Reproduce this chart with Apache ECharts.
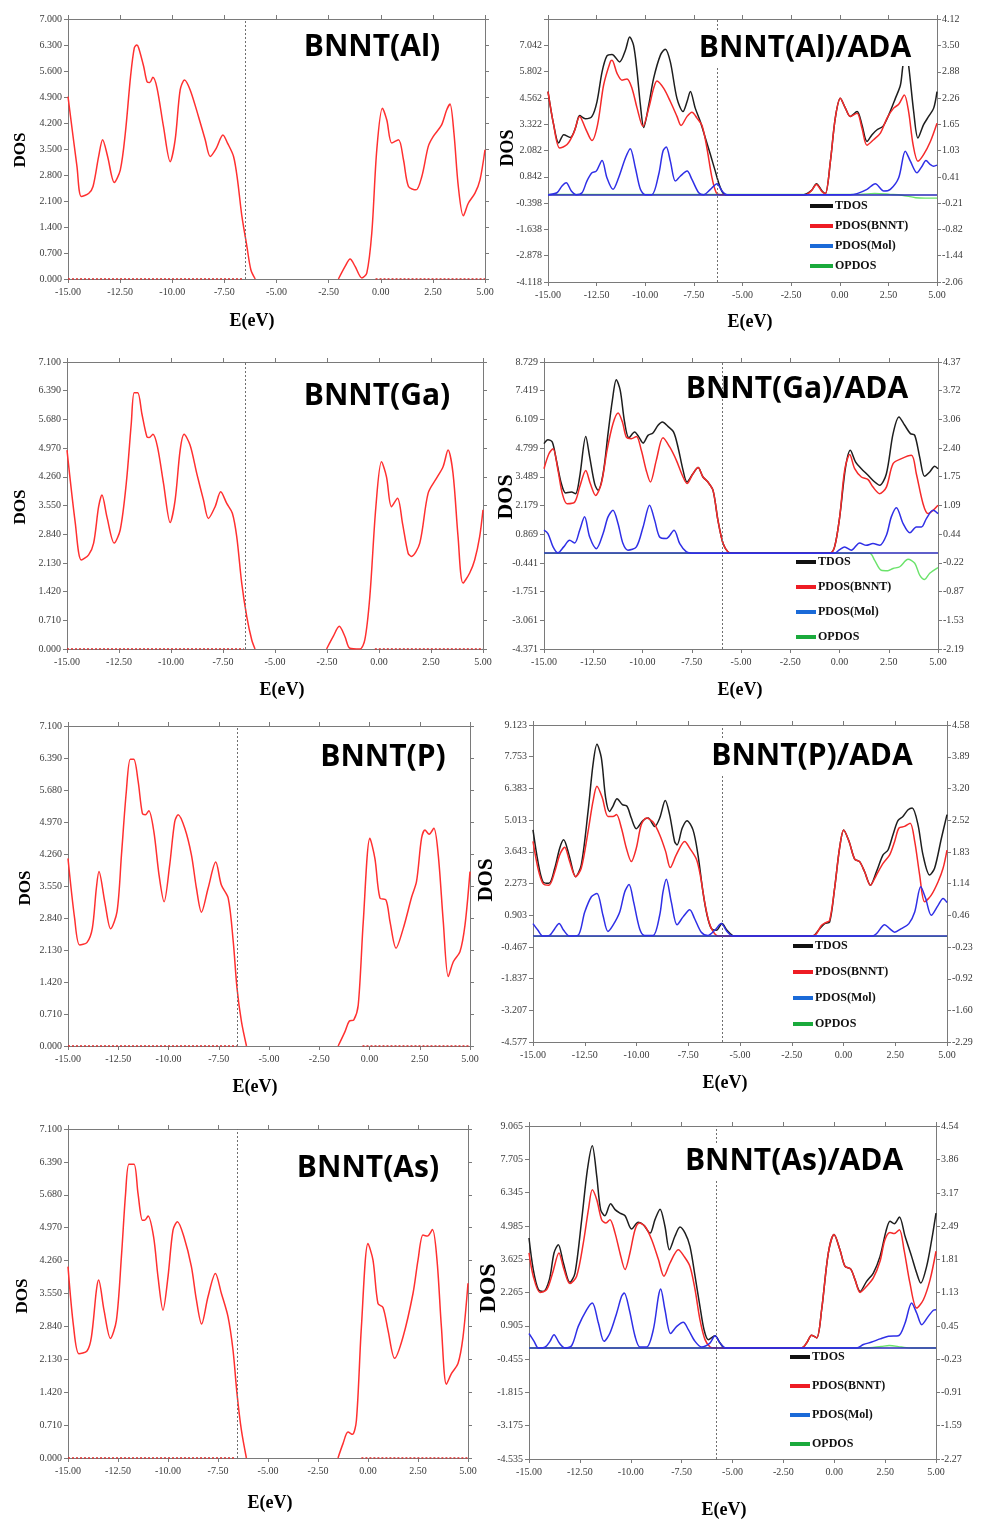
<!DOCTYPE html>
<html><head><meta charset="utf-8">
<script src="https://cdn.jsdelivr.net/npm/echarts@6/dist/echarts.min.js"></script>
<style>html,body{margin:0;padding:0;background:#fff}#c{width:983px;height:1519px}</style>
</head><body><div id="c"></div>
<script>
// ---------------- DATA ----------------
const xTickStep = 2.5;
const xMin = -15, xMax = 5;

// Pristine-doped BNNT total DOS (left column)
const alDos = [[-15,4.91],[-14.57,3.03],[-14.36,2.22],[-14.0,2.31],[-13.8,2.49],[-13.53,3.3],[-13.34,3.75],[-13.1,3.3],[-12.78,2.6],[-12.49,2.94],[-12.25,3.93],[-12.0,5.45],[-11.82,6.22],[-11.7,6.3],[-11.61,6.22],[-11.37,5.72],[-11.21,5.31],[-11.08,5.29],[-10.93,5.43],[-10.73,5.14],[-10.42,4.1],[-10.1,3.16],[-9.86,3.75],[-9.62,5.09],[-9.41,5.36],[-9.14,5.09],[-8.74,4.37],[-8.42,3.75],[-8.18,3.3],[-7.89,3.52],[-7.57,3.88],[-7.35,3.66],[-7.06,3.3],[-6.87,2.67],[-6.66,1.69],[-6.42,0.88],[-6.23,0.25],[-6.02,0],[-4,'-'],[-2.03,0],[-1.71,0.34],[-1.47,0.54],[-1.23,0.34],[-0.91,0.03],[-0.67,0.16],[-0.43,1.24],[-0.19,3.48],[0.08,4.6],[0.29,4.28],[0.53,3.66],[0.85,3.75],[1.09,3.21],[1.33,2.49],[1.69,2.4],[1.97,2.76],[2.28,3.57],[2.52,3.84],[2.92,4.15],[3.16,4.55],[3.32,4.71],[3.51,3.93],[3.72,2.49],[3.96,1.7],[4.2,2.04],[4.52,2.31],[4.76,2.67],[5.0,3.48]];
const gaDos = [[-15,4.92],[-14.6,3.11],[-14.31,2.2],[-13.96,2.33],[-13.72,2.62],[-13.48,3.52],[-13.32,3.81],[-13.08,3.27],[-12.73,2.62],[-12.44,2.95],[-12.15,4.1],[-11.91,5.58],[-11.77,6.34],[-11.6,6.34],[-11.4,5.82],[-11.16,5.25],[-11.05,5.23],[-10.87,5.31],[-10.65,5.0],[-10.36,4.1],[-10.04,3.13],[-9.8,3.69],[-9.56,4.92],[-9.37,5.31],[-9.08,5.04],[-8.76,4.34],[-8.44,3.69],[-8.2,3.23],[-7.88,3.52],[-7.61,3.89],[-7.32,3.6],[-7.05,3.36],[-6.84,2.78],[-6.6,1.63],[-6.36,0.81],[-6.12,0.23],[-5.96,0],[-4,'-'],[-2.52,0],[-2.2,0.31],[-1.91,0.56],[-1.64,0.31],[-1.4,0.02],[-0.92,0],[-0.68,0.23],[-0.44,1.3],[-0.15,3.52],[0.12,4.63],[0.36,4.26],[0.6,3.52],[0.89,3.73],[1.13,3.11],[1.4,2.37],[1.56,2.29],[1.96,2.62],[2.36,3.85],[2.76,4.22],[3.08,4.51],[3.32,4.92],[3.56,4.34],[3.8,2.78],[4.04,1.63],[4.36,1.88],[4.6,2.2],[4.84,2.78],[5.0,3.44]];
const pDos = [[-15,4.16],[-14.67,2.83],[-14.42,2.24],[-14.05,2.3],[-13.79,2.61],[-13.59,3.5],[-13.46,3.87],[-13.17,3.2],[-12.88,2.6],[-12.56,2.98],[-12.34,4.24],[-12.1,5.64],[-11.9,6.36],[-11.73,6.36],[-11.51,5.87],[-11.3,5.16],[-11.15,5.13],[-10.98,5.22],[-10.73,4.76],[-10.47,3.79],[-10.22,3.2],[-9.94,4.02],[-9.69,4.98],[-9.52,5.13],[-9.19,4.83],[-8.86,4.24],[-8.61,3.5],[-8.36,2.97],[-8.03,3.5],[-7.65,4.08],[-7.37,3.57],[-7.03,3.28],[-6.78,2.32],[-6.59,1.28],[-6.37,0.54],[-6.12,0],[-4,'-'],[-1.56,0],[-1.22,0.32],[-1.01,0.55],[-0.78,0.58],[-0.56,0.91],[-0.31,2.76],[0.02,4.61],[0.27,4.16],[0.52,3.28],[0.82,3.24],[1.02,2.76],[1.32,2.17],[1.68,2.61],[2.1,3.31],[2.34,3.65],[2.59,4.61],[2.76,4.79],[2.97,4.7],[3.2,4.83],[3.42,4.24],[3.67,2.76],[3.92,1.54],[4.17,1.87],[4.5,2.09],[4.75,2.68],[5.0,3.87]];
const asDos = [[-15,4.13],[-14.72,2.83],[-14.45,2.25],[-14.05,2.31],[-13.83,2.61],[-13.58,3.62],[-13.47,3.84],[-13.2,3.19],[-12.88,2.58],[-12.58,2.97],[-12.33,4.34],[-12.12,5.71],[-11.95,6.34],[-11.7,6.34],[-11.5,5.71],[-11.28,5.13],[-11.17,5.13],[-11.0,5.22],[-10.72,4.77],[-10.5,3.91],[-10.25,3.19],[-10.0,3.91],[-9.75,4.92],[-9.53,5.1],[-9.2,4.77],[-8.83,4.13],[-8.58,3.41],[-8.32,2.89],[-8.0,3.48],[-7.63,3.98],[-7.33,3.55],[-7.0,3.05],[-6.75,2.33],[-6.55,1.39],[-6.33,0.6],[-6.08,0],[-4,'-'],[-1.5,0],[-1.25,0.31],[-1.0,0.56],[-0.78,0.51],[-0.58,0.81],[-0.33,2.83],[0.0,4.63],[0.25,4.27],[0.5,3.33],[0.75,3.25],[1.0,2.76],[1.33,2.15],[1.75,2.61],[2.25,3.55],[2.5,4.27],[2.75,4.81],[2.97,4.79],[3.22,4.93],[3.45,4.27],[3.67,2.83],[3.92,1.59],[4.17,1.82],[4.5,2.04],[4.75,2.61],[5.0,3.77]];

// dotted zero-level DOS segments (left column)
const alBase = [[-15,0],[-6.6,0],[-4,'-'],[-0.25,0],[5,0]];
const gaBase = [[-15,0],[-6.5,0],[-4,'-'],[-0.2,0],[5,0]];
const pBase  = [[-15,0],[-6.6,0],[-4,'-'],[-0.35,0],[5,0]];
const asBase = [[-15,0],[-6.6,0],[-4,'-'],[-0.33,0],[5,0]];

// BNNT(X)/ADA complexes (right column)
const alAdaTdos = [[-15,4.86],[-14.71,3.3],[-14.45,2.44],[-14.19,2.83],[-13.85,2.7],[-13.59,3.14],[-13.37,3.73],[-13.08,3.58],[-12.74,3.69],[-12.48,4.39],[-12.22,5.79],[-11.97,6.54],[-11.71,6.61],[-11.32,6.26],[-11.02,6.81],[-10.8,7.43],[-10.6,7.04],[-10.42,5.79],[-10.25,4.23],[-10.08,3.17],[-9.82,4.23],[-9.57,5.48],[-9.22,6.58],[-8.97,6.86],[-8.71,6.26],[-8.37,4.54],[-8.06,3.92],[-7.85,4.39],[-7.68,4.86],[-7.43,4.08],[-7.17,3.45],[-6.91,2.67],[-6.65,1.89],[-6.4,1.11],[-6.14,0.33],[-5.88,0],[-1.85,0],[-1.45,0.2],[-1.2,0.52],[-0.91,0.17],[-0.74,0.05],[-0.48,1.58],[-0.23,3.61],[0.03,4.54],[0.29,4.08],[0.54,3.69],[0.89,3.92],[1.14,3.3],[1.4,2.51],[1.66,2.83],[1.92,3.06],[2.22,3.22],[2.52,3.76],[2.86,4.54],[3.12,5.17],[3.25,6.1],[3.4,6.7],[3.54,6.1],[3.8,3.92],[4.02,2.67],[4.31,3.3],[4.57,3.69],[4.83,4.08],[5.0,4.86]];
const alAdaBnnt = [[-15,4.86],[-14.71,3.3],[-14.4,2.2],[-14.02,2.36],[-13.68,2.9],[-13.37,3.69],[-13.08,3.14],[-12.74,2.55],[-12.45,3.3],[-12.14,5.17],[-11.8,6.26],[-11.71,6.34],[-11.45,5.72],[-11.2,5.4],[-10.94,5.45],[-10.68,5.01],[-10.42,4.08],[-10.12,3.22],[-9.82,4.08],[-9.57,5.01],[-9.4,5.36],[-9.05,5.01],[-8.71,4.39],[-8.37,3.69],[-8.16,3.26],[-7.85,3.69],[-7.6,3.89],[-7.34,3.61],[-7.08,3.26],[-6.83,2.2],[-6.57,0.8],[-6.35,0.09],[-6.15,0],[-1.75,0],[-1.45,0.2],[-1.2,0.48],[-0.91,0.14],[-0.74,0.05],[-0.48,1.58],[-0.23,3.61],[0.03,4.54],[0.29,4.08],[0.54,3.69],[0.89,3.84],[1.14,3.14],[1.4,2.33],[1.74,2.59],[2.09,2.9],[2.43,3.61],[2.77,4.08],[3.03,4.26],[3.32,4.7],[3.54,3.92],[3.77,2.36],[4.02,1.58],[4.31,1.89],[4.66,2.51],[5.0,3.37]];
const alAdaMol = [[-15,0],[-14.54,0.09],[-14.28,0.41],[-14.06,0.56],[-13.8,0.17],[-13.54,0],[-13.25,0.09],[-13.0,0.64],[-12.74,1.03],[-12.52,1.11],[-12.22,1.61],[-11.97,0.8],[-11.66,0.25],[-11.37,0.8],[-11.02,1.73],[-10.77,2.17],[-10.51,1.27],[-10.25,0.25],[-10.0,0],[-9.66,0],[-9.31,0.95],[-9.09,2.05],[-8.92,2.25],[-8.71,1.58],[-8.45,0.64],[-8.2,0.87],[-7.85,1.11],[-7.6,0.72],[-7.25,0.09],[-7.0,0],[-6.65,0.25],[-6.31,0.52],[-6.05,0.17],[-5.8,0],[0.54,0],[0.89,0.05],[1.4,0.25],[1.83,0.52],[2.26,0.17],[2.6,0.25],[3.03,0.8],[3.37,2.05],[3.63,1.58],[3.97,1.03],[4.23,1.34],[4.43,1.61],[4.66,1.42],[4.83,1.34],[5.0,1.39]];
const alAdaOp = [[-15,0],[1.0,0],[1.8,0.02],[2.6,0],[3.2,-0.02],[3.9,-0.08],[4.4,-0.09],[5.0,-0.09]];

const gaAdaTdos = [[-15,5.0],[-14.8,5.18],[-14.58,5.08],[-14.37,4.24],[-14.12,3.18],[-13.9,2.75],[-13.61,2.8],[-13.4,2.72],[-13.19,3.48],[-12.88,5.33],[-12.68,4.39],[-12.43,3.18],[-12.26,2.87],[-12.0,3.63],[-11.75,5.46],[-11.53,6.98],[-11.33,7.92],[-11.13,7.43],[-10.91,5.99],[-10.69,5.27],[-10.4,5.53],[-10.18,5.3],[-9.97,5.03],[-9.72,5.38],[-9.47,5.49],[-9.21,5.84],[-8.99,5.99],[-8.71,5.79],[-8.42,5.53],[-8.2,4.85],[-7.94,3.78],[-7.74,3.25],[-7.44,3.63],[-7.18,3.91],[-6.93,3.48],[-6.68,3.25],[-6.42,2.87],[-6.17,1.5],[-5.91,0.44],[-5.66,0.06],[-5.45,0],[-0.5,0],[-0.25,0.29],[0.01,1.66],[0.31,3.94],[0.55,4.7],[0.82,4.16],[1.11,3.86],[1.45,3.56],[1.79,3.25],[2.04,3.1],[2.38,3.63],[2.72,5.46],[3.02,6.22],[3.31,5.84],[3.6,5.46],[3.82,5.38],[4.07,4.39],[4.32,3.51],[4.58,3.71],[4.83,3.97],[5.0,3.86]];
const gaAdaBnnt = [[-15,3.86],[-14.75,4.54],[-14.54,4.77],[-14.29,3.78],[-14.07,2.72],[-13.83,2.26],[-13.44,2.34],[-13.19,3.02],[-12.88,3.78],[-12.65,3.18],[-12.38,2.64],[-12.09,3.18],[-11.8,4.7],[-11.5,5.91],[-11.24,6.4],[-11.02,5.99],[-10.82,5.3],[-10.57,5.23],[-10.31,5.33],[-10.06,4.7],[-9.81,3.78],[-9.6,3.25],[-9.3,4.24],[-8.96,5.27],[-8.62,4.85],[-8.28,4.24],[-7.98,3.56],[-7.74,3.18],[-7.44,3.63],[-7.18,3.91],[-6.93,3.48],[-6.68,3.25],[-6.42,2.87],[-6.17,1.5],[-5.91,0.44],[-5.66,0.06],[-5.45,0],[-0.5,0],[-0.25,0.29],[0.01,1.66],[0.26,3.78],[0.52,4.51],[0.77,3.86],[1.11,3.48],[1.45,3.36],[1.7,3.02],[2.04,2.72],[2.38,3.02],[2.72,4.09],[3.15,4.32],[3.65,4.47],[3.9,3.63],[4.24,2.26],[4.49,1.81],[4.75,1.96],[5.0,2.19]];
const gaAdaMol = [[-15,1.05],[-14.8,0.9],[-14.54,0.29],[-14.29,0.02],[-14.0,0.29],[-13.7,0.59],[-13.44,0.47],[-13.19,1.05],[-12.94,1.66],[-12.68,0.74],[-12.34,0.21],[-12.0,0.9],[-11.75,1.66],[-11.5,1.96],[-11.24,1.35],[-10.99,0.44],[-10.74,0.14],[-10.31,0.29],[-9.97,1.2],[-9.64,2.19],[-9.38,1.5],[-9.13,0.74],[-8.79,0.67],[-8.4,1.05],[-8.11,0.44],[-7.77,0.06],[-7.5,0],[-0.25,0],[0.01,0.17],[0.26,0.29],[0.6,0.14],[1.02,0.47],[1.36,0.36],[1.7,0.44],[2.04,0.36],[2.38,0.82],[2.63,1.66],[2.89,2.08],[3.23,1.35],[3.57,0.93],[3.9,1.2],[4.16,1.2],[4.41,1.58],[4.75,1.96],[5.0,1.81]];
const gaAdaOp = [[-15,0],[1.53,0],[1.78,-0.16],[2.12,-0.39],[2.46,-0.4],[2.72,-0.35],[3.06,-0.31],[3.48,-0.14],[3.82,-0.23],[4.07,-0.5],[4.32,-0.6],[4.58,-0.46],[5.0,-0.33]];

const pAdaTdos = [[-15,4.59],[-14.76,3.22],[-14.52,2.35],[-14.23,2.28],[-13.95,2.93],[-13.71,3.8],[-13.52,4.16],[-13.26,3.51],[-12.94,2.57],[-12.67,3.07],[-12.34,5.39],[-12.1,7.42],[-11.91,8.29],[-11.7,7.71],[-11.49,5.97],[-11.3,5.39],[-11.14,5.61],[-10.94,5.94],[-10.68,5.68],[-10.46,5.61],[-10.25,5.1],[-10.01,4.64],[-9.69,4.99],[-9.44,5.1],[-9.12,4.74],[-8.88,5.1],[-8.61,5.86],[-8.4,5.25],[-8.16,4.09],[-8.04,3.94],[-7.79,4.67],[-7.56,4.99],[-7.27,4.59],[-7.03,3.51],[-6.79,1.91],[-6.59,0.9],[-6.38,0.32],[-6.14,0.25],[-5.87,0.54],[-5.63,0.25],[-5.37,0.03],[-5.2,0],[-1.5,0],[-1.15,0.32],[-0.91,0.54],[-0.67,0.61],[-0.43,2.06],[-0.19,3.8],[0.01,4.59],[0.27,4.09],[0.54,3.33],[0.78,3.22],[1.02,2.78],[1.3,2.2],[1.59,2.78],[1.91,3.51],[2.15,3.72],[2.39,4.38],[2.63,4.99],[2.87,5.17],[3.12,5.46],[3.32,5.54],[3.6,4.81],[3.84,3.51],[4.16,2.64],[4.4,2.93],[4.73,4.23],[5.0,5.25]];
const pAdaBnnt = [[-15,4.09],[-14.76,2.93],[-14.52,2.28],[-14.23,2.2],[-13.95,2.78],[-13.71,3.51],[-13.47,3.84],[-13.23,3.22],[-12.94,2.57],[-12.67,2.93],[-12.34,4.52],[-12.1,5.83],[-11.91,6.48],[-11.65,5.97],[-11.38,5.17],[-11.14,5.17],[-10.97,5.25],[-10.73,4.67],[-10.49,3.8],[-10.25,3.22],[-10.01,3.8],[-9.77,4.81],[-9.53,5.1],[-9.2,4.93],[-8.88,4.38],[-8.59,3.65],[-8.37,2.96],[-8.08,3.51],[-7.67,4.09],[-7.43,3.8],[-7.11,3.33],[-6.92,2.64],[-6.71,1.48],[-6.5,0.61],[-6.3,0.2],[-6.05,0],[-1.55,0],[-1.31,0.1],[-1.07,0.46],[-0.86,0.58],[-0.67,0.68],[-0.43,2.06],[-0.19,3.8],[0.01,4.59],[0.27,4.09],[0.54,3.33],[0.78,3.22],[1.02,2.78],[1.3,2.2],[1.59,2.64],[1.91,3.14],[2.23,3.51],[2.47,4.09],[2.68,4.67],[2.95,4.74],[3.22,4.88],[3.44,4.09],[3.68,2.64],[3.92,1.48],[4.24,1.77],[4.57,2.35],[4.81,2.93],[5.0,3.72]];
const pAdaMol = [[-15,0.54],[-14.76,0.25],[-14.52,0],[-14.2,0.03],[-13.95,0.32],[-13.74,0.54],[-13.52,0.25],[-13.23,0],[-12.83,0.03],[-12.5,1.04],[-12.18,1.7],[-11.91,1.84],[-11.62,0.9],[-11.38,0.2],[-11.14,0.46],[-10.81,1.04],[-10.57,1.91],[-10.36,2.23],[-10.14,1.48],[-9.85,0.32],[-9.61,0.03],[-9.2,0.03],[-8.88,0.9],[-8.72,1.91],[-8.56,2.46],[-8.32,1.48],[-8.04,0.49],[-7.75,0.83],[-7.43,1.14],[-7.19,0.75],[-6.87,0.17],[-6.55,0.03],[-6.22,0.25],[-5.9,0.54],[-5.63,0.2],[-5.34,0],[1.4,0],[1.59,0.1],[1.99,0.49],[2.23,0.32],[2.47,0.17],[2.79,0.32],[3.16,0.54],[3.44,1.04],[3.73,2.13],[3.97,1.62],[4.24,0.9],[4.57,1.33],[4.81,1.62],[5.0,1.45]];
const pAdaOp = [[-15,0],[-1.2,0],[-0.9,0.01],[-0.5,0],[2.2,0],[2.5,0.01],[2.8,0],[5,0]];

const asAdaTdos = [[-15,4.49],[-14.79,3.2],[-14.54,2.38],[-14.3,2.31],[-14.0,2.79],[-13.77,3.88],[-13.56,4.22],[-13.31,3.47],[-12.99,2.68],[-12.74,3.06],[-12.41,5.24],[-12.13,7.28],[-11.89,8.26],[-11.67,7.01],[-11.48,5.65],[-11.27,5.4],[-10.99,5.89],[-10.77,5.65],[-10.53,5.51],[-10.28,5.4],[-9.96,4.86],[-9.63,5.13],[-9.38,5.03],[-9.05,4.69],[-8.81,5.24],[-8.56,5.67],[-8.32,4.97],[-8.1,4.01],[-7.83,4.56],[-7.58,4.94],[-7.33,4.69],[-7.09,4.15],[-6.84,2.93],[-6.6,1.7],[-6.4,0.75],[-6.19,0.34],[-5.86,0.5],[-5.61,0.2],[-5.37,0],[-1.6,0],[-1.36,0.2],[-1.11,0.52],[-0.86,0.41],[-0.62,1.56],[-0.29,3.88],[-0.01,4.63],[0.28,4.01],[0.53,3.33],[0.81,3.22],[1.02,2.79],[1.27,2.31],[1.59,2.72],[1.92,3.06],[2.25,3.74],[2.54,4.76],[2.74,5.17],[2.95,5.07],[3.2,5.35],[3.48,4.56],[3.8,3.74],[4.05,3.06],[4.25,2.65],[4.54,3.33],[4.79,4.42],[5.0,5.51]];
const asAdaBnnt = [[-15,3.88],[-14.79,2.93],[-14.46,2.27],[-14.13,2.38],[-13.84,3.06],[-13.53,3.88],[-13.28,3.2],[-12.99,2.63],[-12.66,2.93],[-12.33,4.29],[-12.08,5.65],[-11.89,6.46],[-11.67,6.05],[-11.43,5.24],[-11.22,5.1],[-11.02,5.24],[-10.77,4.69],[-10.53,3.88],[-10.28,3.2],[-10.04,3.88],[-9.79,4.83],[-9.58,5.1],[-9.3,4.97],[-8.97,4.42],[-8.64,3.61],[-8.37,2.93],[-8.07,3.47],[-7.66,4.01],[-7.38,3.74],[-7.09,3.33],[-6.84,2.38],[-6.6,1.16],[-6.35,0.34],[-6.1,0.04],[-5.9,0],[-1.6,0],[-1.36,0.2],[-1.11,0.52],[-0.86,0.41],[-0.62,1.56],[-0.29,3.88],[-0.01,4.63],[0.28,4.01],[0.53,3.33],[0.81,3.22],[1.02,2.79],[1.27,2.27],[1.59,2.52],[1.92,2.86],[2.25,3.54],[2.49,4.42],[2.74,4.72],[2.95,4.67],[3.2,4.83],[3.43,4.01],[3.72,2.65],[4.05,1.63],[4.38,1.97],[4.71,2.79],[5.0,3.95]];
const asAdaMol = [[-15,0.59],[-14.75,0.27],[-14.54,0],[-14.2,0.04],[-13.97,0.27],[-13.77,0.54],[-13.51,0.2],[-13.23,0],[-12.9,0.1],[-12.58,0.88],[-12.17,1.56],[-11.89,1.84],[-11.59,1.02],[-11.31,0.27],[-11.02,0.61],[-10.69,1.43],[-10.45,2.11],[-10.32,2.24],[-10.07,1.56],[-9.79,0.48],[-9.55,0.04],[-9.22,0.04],[-8.89,0.75],[-8.64,2.11],[-8.53,2.41],[-8.32,1.56],[-8.04,0.59],[-7.74,0.88],[-7.42,1.05],[-7.17,0.75],[-6.84,0.27],[-6.52,0.04],[-6.11,0.2],[-5.86,0.5],[-5.61,0.2],[-5.32,0],[1.1,0],[1.43,0.14],[1.84,0.24],[2.25,0.37],[2.66,0.48],[3.15,0.5],[3.48,1.02],[3.8,1.84],[4.05,1.43],[4.3,0.95],[4.62,1.29],[4.87,1.54],[5.0,1.56]];
const asAdaOp = [[-15,0],[1.5,0],[2.3,0.03],[2.7,0.05],[3.3,0.02],[3.8,0],[5,0]];

// Fermi levels (dotted vertical lines)
const fermiLeft  = [-6.5, -6.45, -6.59, -6.53];
const fermiRight = [-6.31, -5.94, -5.87, -5.81];

// Y tick labels
const leftColMax = [7.0, 7.1, 7.1, 7.1];
const leftColStep = [0.7, 0.71, 0.71, 0.71];
const alAdaLeftTicks  = [-4.118,-2.878,-1.638,-0.398,0.842,2.082,3.322,4.562,5.802,7.042,8.282];
const alAdaRightTicks = [-2.06,-1.44,-0.82,-0.21,0.41,1.03,1.65,2.26,2.88,3.50,4.12];
const gaAdaLeftTicks  = [-4.371,-3.061,-1.751,-0.441,0.869,2.179,3.489,4.799,6.109,7.419,8.729];
const gaAdaRightTicks = [-2.19,-1.53,-0.87,-0.22,0.44,1.09,1.75,2.40,3.06,3.72,4.37];
const pAdaLeftTicks   = [-4.577,-3.207,-1.837,-0.467,0.903,2.273,3.643,5.013,6.383,7.753,9.123];
const pAdaRightTicks  = [-2.29,-1.60,-0.92,-0.23,0.46,1.14,1.83,2.52,3.20,3.89,4.58];
const asAdaLeftTicks  = [-4.535,-3.175,-1.815,-0.455,0.905,2.265,3.625,4.985,6.345,7.705,9.065];
const asAdaRightTicks = [-2.27,-1.59,-0.91,-0.23,0.45,1.13,1.81,2.49,3.17,3.86,4.54];

const leftTitles  = ['BNNT(Al)','BNNT(Ga)','BNNT(P)','BNNT(As)'];
const rightTitles = ['BNNT(Al)/ADA','BNNT(Ga)/ADA','BNNT(P)/ADA','BNNT(As)/ADA'];
const legendNames = ['TDOS','PDOS(BNNT)','PDOS(Mol)','OPDOS'];

// ---------------- LAYOUT ----------------
const leftPanels = [
  {dos: alDos, base: alBase, grid:{left:68,top:19,width:417,height:260}, title:[372,47], dosLbl:[21,150,17], eLbl:[252,321]},
  {dos: gaDos, base: gaBase, grid:{left:67,top:362,width:416,height:287}, title:[377,396], dosLbl:[21,507,17], eLbl:[282,690]},
  {dos: pDos,  base: pBase,  grid:{left:68,top:726,width:402,height:320}, title:[383,757], dosLbl:[26,888,17], eLbl:[255,1087]},
  {dos: asDos, base: asBase, grid:{left:68,top:1129,width:400,height:329}, title:[368,1168], dosLbl:[23,1296,17], eLbl:[270,1503]}
];
const rightPanels = [
  {t: alAdaTdos, b: alAdaBnnt, m: alAdaMol, o: alAdaOp, lt: alAdaLeftTicks, rt: alAdaRightTicks, hideTop:true,
   grid:{left:548,top:19,width:389,height:263}, title:[805,48], bg:true, dosLbl:[508,148,18], eLbl:[750,322], legend:[810,200,8,23]},
  {t: gaAdaTdos, b: gaAdaBnnt, m: gaAdaMol, o: gaAdaOp, lt: gaAdaLeftTicks, rt: gaAdaRightTicks,
   grid:{left:544,top:362,width:394,height:287}, title:[797,389], bg:false, dosLbl:[506,497,22], eLbl:[740,690], legend:[796,556,13,20]},
  {t: pAdaTdos, b: pAdaBnnt, m: pAdaMol, o: pAdaOp, lt: pAdaLeftTicks, rt: pAdaRightTicks,
   grid:{left:533,top:725,width:414,height:317}, title:[812,756], bg:true, dosLbl:[487,880,21], eLbl:[725,1083], legend:[793,940,14,20]},
  {t: asAdaTdos, b: asAdaBnnt, m: asAdaMol, o: asAdaOp, lt: asAdaLeftTicks, rt: asAdaRightTicks,
   grid:{left:529,top:1126,width:407,height:333}, title:[794,1161], bg:true, dosLbl:[489,1288,24], eLbl:[724,1510], legend:[790,1351,17,20]}
];

const AX = {color:'#7a7a7a', width:1};
const LBL = {fontFamily:'Liberation Serif', fontSize:10, color:'#3a3a3a'};
const grids = [], xAxes = [], yAxes = [], series = [], graphics = [], legends = [];

function addXAxes(gi){
  const base = {gridIndex:gi, type:'value', min:xMin, max:xMax, interval:xTickStep,
    splitLine:{show:false}, axisLine:{onZero:false, lineStyle:AX}, axisTick:{length:4, lineStyle:AX}};
  xAxes.push(Object.assign({}, base, {position:'bottom',
    axisLabel:Object.assign({margin:8, formatter:v=>v.toFixed(2)}, LBL)}));
  xAxes.push(Object.assign({}, base, {position:'top', axisLabel:{show:false}}));
}
function textEl(x,y,text,font,rot,bg){
  const el = {type:'text', x:x, y:y, z:100, rotation:rot||0,
    style:{text:text, font:font, fill:'#000', align:'center', verticalAlign:'middle'}};
  if(bg){ el.style.backgroundColor='#fff'; el.style.padding=[3,4]; }
  return el;
}
const mk = (v)=>({symbol:'none', silent:true, label:{show:false}, lineStyle:{type:[2,2], color:'#6f6f6f', width:1}, data:[{xAxis:v}]});
const zeroMk = {symbol:'none', silent:true, label:{show:false}, lineStyle:{type:'solid', color:'#2a2ab8', width:1.6}, data:[{yAxis:0}]};

let gi = 0;
const order = [];
leftPanels.forEach((p,i)=>{ order.push({side:'L', p, i}); order.push({side:'R', p:rightPanels[i], i}); });

order.forEach(o=>{
  const p = o.p, i = o.i;
  grids.push(Object.assign({containLabel:false}, p.grid));
  addXAxes(gi);
  const xi = gi*2;
  if(o.side==='L'){
    const yb = {gridIndex:gi, type:'value', min:0, max:leftColMax[i], interval:leftColStep[i],
      splitLine:{show:false}, axisLine:{onZero:false, lineStyle:AX}, axisTick:{length:4, lineStyle:AX}};
    yAxes.push(Object.assign({}, yb, {position:'left', axisLabel:Object.assign({margin:6, formatter:v=>v.toFixed(3)}, LBL)}));
    yAxes.push(Object.assign({}, yb, {position:'right', axisLabel:{show:false}}));
    const yi = gi*2;
    series.push({type:'line', name:'base', data:p.base, xAxisIndex:xi, yAxisIndex:yi, symbol:'none', silent:true,
      lineStyle:{color:'#e02a2a', width:1.4, type:[2,2]}, z:2});
    series.push({type:'line', name:'DOS', data:p.dos, xAxisIndex:xi, yAxisIndex:yi, symbol:'none', smooth:0.3, silent:true,
      lineStyle:{color:'#ff3030', width:1.5}, z:3, markLine:mk(fermiLeft[i])});
    graphics.push(textEl(p.title[0], p.title[1], leftTitles[i], 'bold 30px "Open Sans"', 0, false));
  } else {
    const lt = p.lt, rt = p.rt;
    const ltLabels = p.hideTop ? lt.slice(0, lt.length-1) : lt;
    yAxes.push({gridIndex:gi, type:'value', position:'left', min:lt[0], max:lt[lt.length-1],
      splitLine:{show:false}, axisLine:{onZero:false, lineStyle:AX},
      axisTick:{length:4, lineStyle:AX, customValues:lt},
      axisLabel:Object.assign({margin:6, customValues:ltLabels, formatter:v=>v.toFixed(3)}, LBL)});
    yAxes.push({gridIndex:gi, type:'value', position:'right', min:rt[0], max:rt[rt.length-1],
      splitLine:{show:false}, axisLine:{onZero:false, lineStyle:AX},
      axisTick:{length:4, lineStyle:AX, customValues:rt},
      axisLabel:Object.assign({margin:5, customValues:rt, formatter:v=>v.toFixed(2)}, LBL)});
    const yl = gi*2, yr = gi*2+1;
    series.push({type:'line', name:'OPDOS', data:p.o, xAxisIndex:xi, yAxisIndex:yr, symbol:'none', smooth:0.3, silent:true,
      lineStyle:{color:'#6be36b', width:1.4}, itemStyle:{color:'#1aaa3c'}, z:2});
    series.push({type:'line', name:'TDOS', data:p.t, xAxisIndex:xi, yAxisIndex:yl, symbol:'none', smooth:0.3, silent:true,
      lineStyle:{color:'#1e1e1e', width:1.5}, itemStyle:{color:'#111'}, z:3, markLine:mk(fermiRight[i])});
    series.push({type:'line', name:'PDOS(BNNT)', data:p.b, xAxisIndex:xi, yAxisIndex:yl, symbol:'none', smooth:0.3, silent:true,
      lineStyle:{color:'#f52a2a', width:1.5}, itemStyle:{color:'#ee1c24'}, z:4});
    series.push({type:'line', name:'PDOS(Mol)', data:p.m, xAxisIndex:xi, yAxisIndex:yl, symbol:'none', smooth:0.3, silent:true,
      lineStyle:{color:'#2f2fe6', width:1.5}, itemStyle:{color:'#1a6ad8'}, z:5, markLine:zeroMk});
    graphics.push(textEl(p.title[0], p.title[1], rightTitles[i], 'bold 30px "Open Sans"', 0, p.bg));
    const lg = p.legend;
    legends.push({orient:'vertical', left:lg[0], top:lg[1], itemGap:lg[2], itemWidth:lg[3], itemHeight:4, icon:'rect',
      selectedMode:false, padding:0,
      textStyle:{fontFamily:'Liberation Serif', fontWeight:'bold', fontSize:12, color:'#111', padding:[0,0,0,-3]},
      data:[{name:'TDOS', itemStyle:{color:'#111'}},{name:'PDOS(BNNT)', itemStyle:{color:'#ee1c24'}},
            {name:'PDOS(Mol)', itemStyle:{color:'#1a6ad8'}},{name:'OPDOS', itemStyle:{color:'#1aaa3c'}}]});
  }
  graphics.push(textEl(p.dosLbl[0], p.dosLbl[1], 'DOS', 'bold '+p.dosLbl[2]+'px "Liberation Serif"', Math.PI/2, false));
  graphics.push(textEl(p.eLbl[0], p.eLbl[1], 'E(eV)', 'bold 18px "Liberation Serif"', 0, false));
  gi++;
});

const chart = echarts.init(document.getElementById('c'), null, {renderer:'canvas'});
chart.setOption({
  animation:false,
  backgroundColor:'#fff',
  grid:grids, xAxis:xAxes, yAxis:yAxes, series:series, legend:legends,
  graphic:{elements:graphics}
});
</script></body></html>
